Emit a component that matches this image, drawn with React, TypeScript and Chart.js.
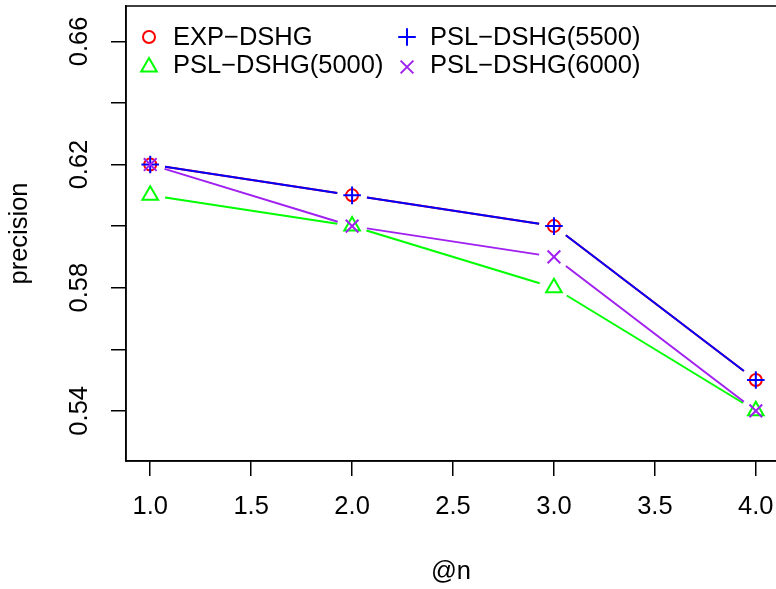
import React, { useEffect, useRef } from 'react';
import { Chart, registerables } from 'chart.js';
import { drawPoint } from 'chart.js/helpers';

Chart.register(...registerables);

// ---- data ----
const xValues = [1, 2, 3, 4];
const expDshg = [0.62, 0.61, 0.6, 0.55];
const psl5000 = [0.61, 0.6, 0.58, 0.54];
const psl5500 = [0.62, 0.61, 0.6, 0.55];
const psl6000 = [0.62, 0.6, 0.59, 0.54];
const seriesNames = ['EXP−DSHG', 'PSL−DSHG(5000)', 'PSL−DSHG(5500)', 'PSL−DSHG(6000)'];
const xTickValues = [1, 1.5, 2, 2.5, 3, 3.5, 4];
const yTickValues = [0.54, 0.56, 0.58, 0.6, 0.62, 0.64, 0.66];
const yTickLabels = ['0.54', '', '0.58', '', '0.62', '', '0.66'];
const xTitle = '@n';
const yTitle = 'precision';

// ---- styles ----
const FONT = "'Liberation Sans', Arial, Helvetica, sans-serif";
const FONT_SIZE = 25.5;
const COLORS = ['#FF0000', '#00FF00', '#0000FF', '#A020F0'];
const STYLES = ['circle', 'triangle', 'cross', 'crossRot'];
const RADII = [6, 9, 8.8, 9];
const GAP = 15;
const X_MIN = 0.88;
const X_MAX = 4.1;
const X_FRAME_MAX = 4.12;
const Y_MIN = 0.5237;
const Y_MAX = 0.6715;
const W = 776;
const H = 589;

const allSeries = [expDshg, psl5000, psl5500, psl6000];

const gapLines = {
  id: 'gapLines',
  beforeDatasetsDraw(chart: any) {
    const ctx = chart.ctx;
    const a = chart.chartArea;
    ctx.save();
    ctx.beginPath();
    ctx.rect(a.left, a.top, a.right - a.left, a.bottom - a.top);
    ctx.clip();
    chart.data.datasets.forEach((ds: any, i: number) => {
      const meta = chart.getDatasetMeta(i);
      ctx.strokeStyle = ds.borderColor;
      ctx.lineWidth = 2;
      for (let j = 0; j < meta.data.length - 1; j++) {
        const p0 = meta.data[j];
        const p1 = meta.data[j + 1];
        const dx = p1.x - p0.x;
        const dy = p1.y - p0.y;
        const len = Math.hypot(dx, dy);
        if (len <= 2 * GAP) continue;
        const ux = dx / len;
        const uy = dy / len;
        ctx.beginPath();
        ctx.moveTo(p0.x + ux * GAP, p0.y + uy * GAP);
        ctx.lineTo(p1.x - ux * GAP, p1.y - uy * GAP);
        ctx.stroke();
      }
    });
    ctx.restore();
  },
};

const decorations = {
  id: 'decorations',
  afterDraw(chart: any) {
    const ctx = chart.ctx;
    const a = chart.chartArea;
    const xs = chart.scales.x;
    const ys = chart.scales.y;
    ctx.save();
    // frame box
    ctx.strokeStyle = '#000';
    ctx.lineWidth = 1.5;
    const right = xs.getPixelForValue(X_FRAME_MAX);
    ctx.strokeRect(a.left, a.top, right - a.left, a.bottom - a.top);

    // rotated y tick labels
    ctx.fillStyle = '#000';
    ctx.font = `${FONT_SIZE}px ${FONT}`;
    ctx.textAlign = 'center';
    ctx.textBaseline = 'middle';
    yTickValues.forEach((v, i) => {
      const lab = yTickLabels[i];
      if (!lab) return;
      const py = ys.getPixelForValue(v);
      ctx.save();
      ctx.translate(80, py);
      ctx.rotate(-Math.PI / 2);
      ctx.fillText(lab, 0, 0);
      ctx.restore();
    });

    // legend (2 columns, filled column-wise)
    const symX = [a.left + 23, a.left + 281];
    const txtX = [a.left + 47, a.left + 304];
    const symY = [a.top + 31, a.top + 61];
    const txtY = [a.top + 31.5, a.top + 60];
    chart.data.datasets.forEach((ds: any, i: number) => {
      const col = Math.floor(i / 2);
      const row = i % 2;
      ctx.fillStyle = 'rgba(0,0,0,0)';
      ctx.strokeStyle = COLORS[i];
      ctx.lineWidth = 2;
      drawPoint(ctx, { pointStyle: STYLES[i], radius: RADII[i], borderWidth: 2, rotation: 0 } as any, symX[col], symY[row]);
      ctx.fillStyle = '#000';
      ctx.textAlign = 'left';
      ctx.textBaseline = 'middle';
      ctx.fillText(ds.label, txtX[col], txtY[row]);
    });
    ctx.restore();
  },
};

export default function App() {
  const ref = useRef<HTMLCanvasElement>(null);
  useEffect(() => {
    if (!ref.current) return;
    const datasets = allSeries.map((s, i) => ({
      label: seriesNames[i],
      data: xValues.map((x, j) => ({ x, y: s[j] })),
      showLine: false,
      borderColor: COLORS[i],
      backgroundColor: 'rgba(0,0,0,0)',
      pointStyle: STYLES[i],
      pointRadius: RADII[i],
      pointBorderWidth: 2,
      pointBorderColor: COLORS[i],
      pointBackgroundColor: 'rgba(0,0,0,0)',
      order: allSeries.length - 1 - i,
    }));
    const chart = new Chart(ref.current, {
      type: 'line',
      data: { datasets },
      options: {
        animation: false,
        responsive: false,
        devicePixelRatio: 1,
        events: [],
        layout: { padding: { left: 0, top: 6, right: 0, bottom: 0 }, autoPadding: false } as any,
        plugins: { legend: { display: false }, tooltip: { enabled: false } },
        scales: {
          x: {
            type: 'linear',
            position: 'bottom',
            min: X_MIN,
            max: X_MAX,
            afterBuildTicks: (s: any) => {
              s.ticks = xTickValues.map((v) => ({ value: v }));
            },
            afterFit: (s: any) => {
              s.height = H - 461;
              s.paddingLeft = 0;
              s.paddingRight = 0;
            },
            ticks: {
              autoSkip: false,
              maxRotation: 0,
              minRotation: 0,
              padding: 16,
              color: '#000',
              font: { family: FONT, size: FONT_SIZE },
              callback: (v: any) => Number(v).toFixed(1),
            },
            grid: { drawOnChartArea: false, drawTicks: true, tickLength: 15, color: '#000', lineWidth: 1.5 },
            border: { display: true, color: '#000', width: 1.5 },
            title: {
              display: true,
              text: xTitle,
              color: '#000',
              font: { family: FONT, size: FONT_SIZE },
              padding: { top: 0, bottom: 1.5 },
            },
          },
          y: {
            type: 'linear',
            min: Y_MIN,
            max: Y_MAX,
            afterBuildTicks: (s: any) => {
              s.ticks = yTickValues.map((v) => ({ value: v }));
            },
            afterFit: (s: any) => {
              s.width = 126;
              s.paddingTop = 0;
              s.paddingBottom = 0;
            },
            ticks: {
              autoSkip: false,
              color: '#000',
              font: { family: FONT, size: FONT_SIZE },
              callback: () => '',
            },
            grid: { drawOnChartArea: false, drawTicks: true, tickLength: 15, color: '#000', lineWidth: 1.5 },
            border: { display: true, color: '#000', width: 1.5 },
            title: {
              display: true,
              text: yTitle,
              color: '#000',
              font: { family: FONT, size: FONT_SIZE },
              padding: { top: 5, bottom: 0 },
            },
          },
        },
      },
      plugins: [gapLines, decorations],
    });
    return () => chart.destroy();
  }, []);
  return (
    <div style={{ position: 'absolute', left: 0, top: 0, width: W, height: H }}>
      <canvas ref={ref} width={W} height={H} style={{ display: 'block', width: W, height: H }} />
    </div>
  );
}
